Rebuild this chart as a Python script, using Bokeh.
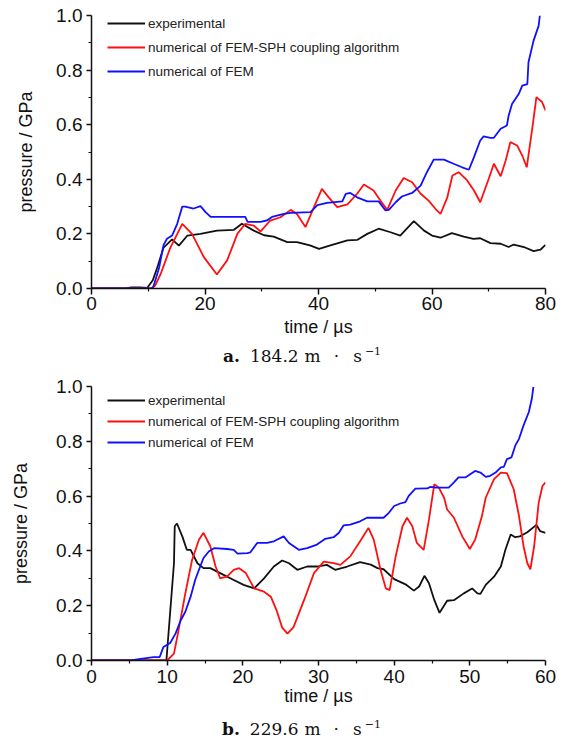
from bokeh.plotting import figure
from bokeh.models import Range1d, FixedTicker, PrintfTickFormatter, Legend, LegendItem, Div
from bokeh.layouts import column
from bokeh.embed import file_html
from bokeh.resources import INLINE

# ---------------- data (a) 184.2 m/s ----------------
exp_a_t = [0, 6, 7, 8.5, 9.8, 10.8, 11.6, 12.7, 14.2, 15.4, 16.9, 19.2, 22.1, 25.1, 26.5, 28.6, 30.4, 32.1,
           34.5, 36.2, 38.5, 40.1, 42.1, 45.1, 46.8, 48.6, 50.6, 52.7, 54.4, 56.8, 58.6, 60.0, 61.5, 63.5,
           65.6, 67.3, 68.5, 70.3, 72.1, 73.5, 74.4, 76.2, 77.9, 79.1, 80]
exp_a_p = [0, 0, 0.004, 0.004, 0.002, 0.03, 0.078, 0.15, 0.18, 0.157, 0.194, 0.2, 0.212, 0.215, 0.237, 0.212,
           0.195, 0.19, 0.17, 0.17, 0.158, 0.145, 0.158, 0.176, 0.178, 0.2, 0.219, 0.206, 0.194, 0.247, 0.212,
           0.194, 0.186, 0.203, 0.19, 0.182, 0.184, 0.166, 0.164, 0.152, 0.161, 0.152, 0.137, 0.142, 0.16]

sph_a_t = [0, 10.4, 11.2, 12.2, 13.9, 16.0, 17.7, 19.8, 22.1, 23.9, 25.7, 27.1, 28.6, 29.8, 31.5, 33.3, 35.1,
           36.2, 37.7, 39.2, 40.6, 41.8, 43.3, 45.1, 46.8, 48.0, 49.7, 50.9, 52.1, 53.6, 55.0, 56.5, 58.0,
           59.4, 60.6, 61.5, 62.7, 63.6, 64.7, 66.2, 67.4, 68.5, 70.0, 70.9, 72.1, 73.0, 73.8, 75.0, 75.9,
           76.7, 77.7, 78.4, 79.4, 80]
sph_a_p = [0, 0, 0.01, 0.054, 0.15, 0.237, 0.2, 0.115, 0.051, 0.103, 0.2, 0.237, 0.23, 0.209, 0.249, 0.261,
           0.288, 0.273, 0.225, 0.298, 0.365, 0.334, 0.298, 0.308, 0.347, 0.381, 0.359, 0.322, 0.288, 0.359,
           0.405, 0.389, 0.347, 0.322, 0.292, 0.273, 0.334, 0.414, 0.426, 0.396, 0.359, 0.316, 0.402, 0.457,
           0.411, 0.47, 0.536, 0.524, 0.487, 0.444, 0.591, 0.701, 0.683, 0.652]

fem_a_t = [0, 10.8, 11.1, 11.9, 12.7, 13.3, 14.2, 15.1, 16.0, 16.5, 18.0, 19.2, 20.1, 21.0, 25.1, 27.1, 27.5,
           29.8, 31.0, 31.8, 33.9, 35.1, 38.6, 39.8, 41.5, 44.2, 44.8, 45.6, 46.8, 48.6, 50.6, 51.8, 52.4,
           53.6, 54.7, 56.5, 58.0, 59.1, 60.3, 62.1, 63.8, 65.3, 66.5, 67.4, 68.5, 69.1, 70.3, 70.9, 72.1,
           73.2, 73.5, 74.1, 75.3, 75.9, 76.8, 77.0, 77.9, 78.8, 79.0]
fem_a_p = [0, 0, 0.02, 0.075, 0.16, 0.182, 0.194, 0.237, 0.30, 0.30, 0.293, 0.302, 0.28, 0.262, 0.262, 0.262,
           0.244, 0.244, 0.25, 0.262, 0.273, 0.277, 0.28, 0.305, 0.314, 0.319, 0.347, 0.35, 0.334, 0.319,
           0.319, 0.286, 0.288, 0.316, 0.337, 0.35, 0.377, 0.426, 0.472, 0.472, 0.457, 0.444, 0.435, 0.481,
           0.542, 0.557, 0.552, 0.552, 0.585, 0.597, 0.633, 0.676, 0.713, 0.743, 0.749, 0.829, 0.908, 0.963, 1.0]

# ---------------- data (b) 229.6 m/s ----------------
exp_b_t = [0, 9.9, 10.9, 11.0, 11.3, 12.0, 12.6, 13.1, 14.0, 14.8, 15.7, 17.0, 18.8, 20.1, 21.5, 22.8, 24.1,
           25.2, 26.1, 27.2, 28.5, 29.8, 31.1, 32.2, 33.8, 35.5, 36.9, 37.8, 38.6, 40.0, 41.5, 42.6, 43.3,
           44.0, 44.6, 45.3, 46.0, 47.0, 47.9, 49.2, 50.3, 51.0, 51.4, 52.1, 53.2, 54.1, 54.7, 55.4, 56.0,
           56.6, 57.6, 58.8, 59.3, 60]
exp_b_p = [0, 0, 0.355, 0.49, 0.50, 0.453, 0.404, 0.404, 0.355, 0.337, 0.337, 0.319, 0.294, 0.276, 0.263, 0.30,
           0.343, 0.365, 0.355, 0.331, 0.343, 0.343, 0.349, 0.331, 0.343, 0.359, 0.35, 0.337, 0.333, 0.297,
           0.278, 0.255, 0.27, 0.309, 0.282, 0.221, 0.174, 0.218, 0.22, 0.245, 0.263, 0.245, 0.243, 0.276,
           0.306, 0.343, 0.404, 0.46, 0.45, 0.453, 0.468, 0.495, 0.472, 0.466]

sph_b_t = [0, 10.0, 10.9, 11.5, 12.4, 13.3, 14.2, 14.8, 15.7, 16.4, 17.0, 17.9, 18.8, 19.5, 20.4, 21.5, 22.8,
           23.7, 24.5, 25.2, 25.9, 26.7, 28.1, 29.4, 30.7, 32.0, 32.9, 34.2, 35.5, 36.6, 37.3, 38.2, 38.9,
           39.4, 40.2, 41.1, 41.7, 42.4, 43.0, 43.9, 44.6, 45.3, 45.9, 46.6, 47.0, 47.9, 49.0, 50.0, 50.7,
           51.6, 52.1, 53.2, 54.1, 54.9, 55.8, 56.5, 57.1, 57.6, 58.0, 58.5, 59.1, 59.6, 60]
sph_b_p = [0, 0, 0.025, 0.11, 0.245, 0.368, 0.441, 0.466, 0.417, 0.343, 0.30, 0.306, 0.331, 0.337, 0.319, 0.263,
           0.251, 0.233, 0.18, 0.12, 0.098, 0.122, 0.221, 0.319, 0.361, 0.355, 0.349, 0.38, 0.435, 0.484,
           0.441, 0.331, 0.263, 0.257, 0.38, 0.49, 0.521, 0.49, 0.429, 0.404, 0.515, 0.643, 0.631, 0.594,
           0.551, 0.521, 0.453, 0.407, 0.441, 0.527, 0.594, 0.662, 0.686, 0.684, 0.625, 0.527, 0.417, 0.355,
           0.333, 0.417, 0.576, 0.637, 0.65]

fem_b_t = [0, 5.2, 6.5, 8.2, 9.0, 9.5, 10.4, 11.1, 11.8, 12.4, 13.1, 13.7, 14.2, 14.8, 15.5, 16.2, 17.9, 18.8,
           19.3, 20.6, 21.0, 21.9, 23.2, 24.1, 25.4, 26.1, 27.4, 28.5, 29.8, 30.9, 32.0, 32.7, 33.3, 34.2,
           35.5, 36.4, 38.6, 39.3, 40.0, 40.8, 41.5, 41.9, 42.8, 44.4, 44.8, 45.5, 47.2, 47.9, 48.5, 49.4,
           50.7, 51.4, 52.1, 52.7, 53.4, 54.1, 54.5, 54.9, 55.5, 56.0, 56.5, 57.1, 57.8, 58.2, 58.4]
fem_b_p = [0, 0, 0.006, 0.012, 0.012, 0.049, 0.064, 0.098, 0.147, 0.178, 0.233, 0.294, 0.331, 0.374, 0.398,
           0.41, 0.407, 0.404, 0.39, 0.392, 0.395, 0.429, 0.429, 0.435, 0.453, 0.429, 0.404, 0.41, 0.423,
           0.444, 0.45, 0.466, 0.493, 0.496, 0.508, 0.521, 0.521, 0.539, 0.564, 0.573, 0.578, 0.60, 0.627,
           0.628, 0.634, 0.631, 0.631, 0.65, 0.668, 0.668, 0.692, 0.686, 0.67, 0.674, 0.686, 0.705, 0.707,
           0.735, 0.741, 0.784, 0.809, 0.858, 0.907, 0.956, 0.999]

# ---------------- ticks / labels ----------------
x_major_a = [0, 20, 40, 60, 80]
x_minor_a = [10, 30, 50, 70]
x_major_b = [0, 10, 20, 30, 40, 50, 60]
x_minor_b = [5, 15, 25, 35, 45, 55]
y_major = [0.0, 0.2, 0.4, 0.6, 0.8, 1.0]
y_minor = [0.1, 0.3, 0.5, 0.7, 0.9]
series_names = ["experimental", "numerical of FEM-SPH coupling algorithm", "numerical of FEM"]
series_colors = ["#111111", "#ff1010", "#1010ff"]
x_title = "time / \u00b5s"
y_title = "pressure / GPa"
caption_a = ("a.", "184.2", "m", "\u00b7", "s", "\u22121")
caption_b = ("b.", "229.6", "m", "\u00b7", "s", "\u22121")

SANS = "Liberation Sans"
SERIF = "DejaVu Serif"


def make_chart(series, x_end, x_major, x_minor, cfg):
    p = figure(width=565, height=cfg["height"], x_range=Range1d(0, x_end), y_range=Range1d(0, 1.0),
               output_backend="svg", toolbar_location=None,
               min_border_left=91, min_border_right=20,
               min_border_top=cfg["top"], min_border_bottom=cfg["bottom"])
    p.outline_line_color = None
    p.xgrid.visible = False
    p.ygrid.visible = False
    p.background_fill_color = "white"
    p.border_fill_color = "white"

    items = []
    for (t, v), name, col in zip(series, series_names, series_colors):
        r = p.line(t, v, line_color=col, line_width=1.8)
        items.append(LegendItem(label=name, renderers=[r]))

    leg = Legend(items=items, location=(16, cfg["leg_y"]), padding=0, margin=0,
                 spacing=cfg["leg_spacing"], glyph_width=38, glyph_height=18, label_height=18,
                 label_standoff=3, border_line_color=None, background_fill_alpha=0,
                 label_text_font=SANS, label_text_font_size="13.5px", label_text_color="#222222")
    p.add_layout(leg)

    xa = p.xaxis[0]
    xa.ticker = FixedTicker(ticks=x_major, minor_ticks=x_minor)
    xa.formatter = PrintfTickFormatter(format="%d")
    xa.axis_label = x_title
    xa.major_tick_out = cfg["xtick"]
    xa.major_tick_in = 0
    xa.minor_tick_out = 3
    xa.minor_tick_in = 0
    xa.major_label_standoff = cfg["xstand"]
    xa.axis_label_standoff = cfg["xlabstand"]

    ya = p.yaxis[0]
    ya.ticker = FixedTicker(ticks=y_major, minor_ticks=y_minor)
    ya.formatter = PrintfTickFormatter(format="%.1f")
    ya.axis_label = y_title
    ya.major_tick_out = 5
    ya.major_tick_in = 0
    ya.minor_tick_out = 3
    ya.minor_tick_in = 0
    ya.major_label_standoff = 4
    ya.axis_label_standoff = cfg["ylabstand"]

    for ax in (xa, ya):
        ax.axis_line_width = 1.5
        ax.axis_line_color = "#111111"
        ax.major_tick_line_width = 1.5
        ax.minor_tick_line_width = 1.2
        ax.major_tick_line_color = "#111111"
        ax.minor_tick_line_color = "#111111"
        ax.major_label_text_font = SANS
        ax.major_label_text_font_size = "19px"
        ax.major_label_text_color = "#111111"
        ax.axis_label_text_font = SANS
        ax.axis_label_text_font_size = "18px"
        ax.axis_label_text_font_style = "normal"
        ax.axis_label_text_color = "#111111"
    return p


def make_caption(parts, left, height):
    html = (
        f'<div style="padding-left:{left}px; white-space:nowrap; font-family:\'{SERIF}\'; '
        f'font-size:17px; line-height:{height}px; color:#111;">'
        f'<b>{parts[0]}</b>'
        f'<span style="margin-left:10px">{parts[1]}</span>'
        f'<span style="margin-left:6px">{parts[2]}</span>'
        f'<span style="margin-left:13px">{parts[3]}</span>'
        f'<span style="margin-left:14px">{parts[4]}</span>'
        f'<span style="margin-left:3px; font-size:11px; vertical-align:7px; line-height:0">{parts[5]}</span>'
        '</div>'
    )
    return Div(text=html, width=565, height=height, margin=(0, 0, 0, 0),
               styles={"overflow": "visible"})


cfg_a = dict(height=349, top=15, bottom=61, leg_y=208, leg_spacing=6, xtick=6, xstand=2, xlabstand=4,
             ylabstand=17)
cfg_b = dict(height=359, top=23, bottom=62, leg_y=209, leg_spacing=3, xtick=5, xstand=4, xlabstand=0,
             ylabstand=22)

p1 = make_chart([(exp_a_t, exp_a_p), (sph_a_t, sph_a_p), (fem_a_t, fem_a_p)], 80, x_major_a, x_minor_a, cfg_a)
cap1 = make_caption(caption_a, 223, 14)
p2 = make_chart([(exp_b_t, exp_b_p), (sph_b_t, sph_b_p), (fem_b_t, fem_b_p)], 60, x_major_b, x_minor_b, cfg_b)
cap2 = make_caption(caption_b, 222, 14)

layout = column(p1, cap1, p2, cap2, spacing=0)
open("out.html", "w").write(file_html(layout, INLINE))
